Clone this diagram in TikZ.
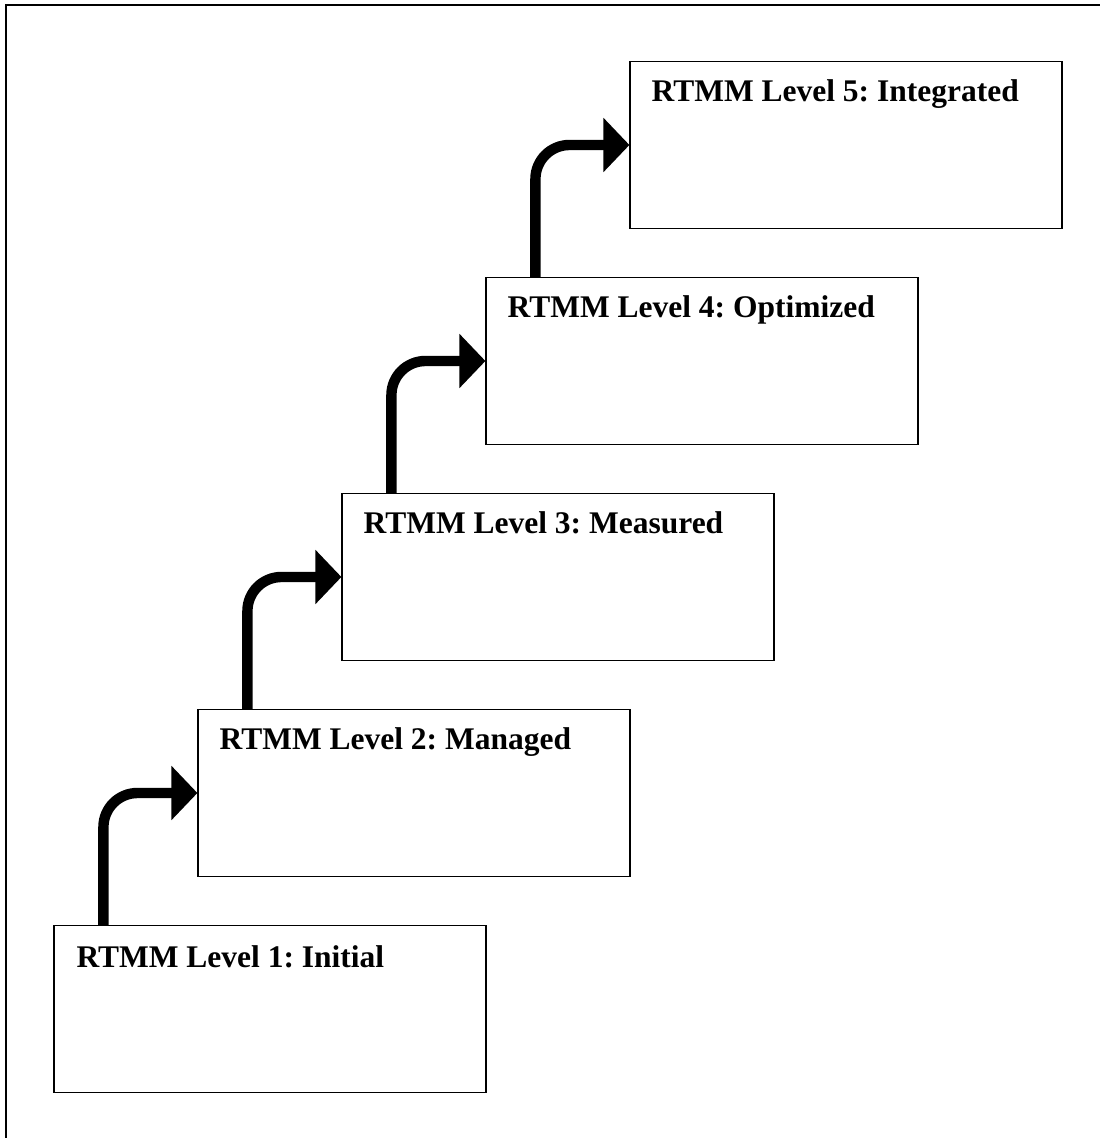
\documentclass[tikz,border=0pt]{standalone}
\usepackage{fontspec}
\setmainfont{Liberation Serif}
\usetikzlibrary{
  positioning,
  arrows.meta
}
\frenchspacing

\begin{document}
\begin{tikzpicture}[
  every node/.style={inner sep=0pt},
  levelbox/.style={
    rectangle, draw=black, line width=0.8pt,
    minimum width=10.8cm, minimum height=4.175cm
  },
  title/.style={anchor=base west, font=\fontsize{22.4}{26}\selectfont\bfseries},
  arrow/.style={-{Triangle[length=0.65cm, width=1.32cm]}, line width=0.26cm,
    rounded corners=0.85cm},
  frame/.style={line width=0.05cm}
]
 % Page size (1100 x 1138 px, 1px = 0.025cm)
 \useasboundingbox (0,0) rectangle (27.5,28.45);

 % Outer frame (only top and left edges are visible)
 \draw[frame] (0.15,0) -- (0.15,28.325) -- (27.5,28.325);

 % Level boxes, each step is 3.6cm right and 5.4cm up
 \node[levelbox] (l1) at (6.75,3.225) {};
 \node[levelbox] (l2) at (10.35,8.625) {};
 \node[levelbox] (l3) at (13.95,14.025) {};
 \node[levelbox] (l4) at (17.55,19.425) {};
 \node[levelbox] (l5) at (21.15,24.825) {};

 % Titles
 \node[title] (t1) at ([xshift=0.57cm, yshift=-1.06cm] l1.north west) {RTMM Level 1: Initial};
 \node[title] (t2) at ([xshift=0.55cm, yshift=-1.02cm] l2.north west) {RTMM Level 2: Managed};
 \node[title] (t3) at ([xshift=0.55cm, yshift=-1.02cm] l3.north west) {RTMM Level 3: Measured};
 \node[title] (t4) at ([xshift=0.55cm, yshift=-1.02cm] l4.north west) {RTMM Level 4: Optimized};
 \node[title] (t5) at ([xshift=0.55cm, yshift=-1.02cm] l5.north west) {RTMM Level 5: Integrated};

 % Step arrows
 \draw[arrow] ([xshift=1.25cm] l1.north west) |- (l2.west);
 \draw[arrow] ([xshift=1.25cm] l2.north west) |- (l3.west);
 \draw[arrow] ([xshift=1.25cm] l3.north west) |- (l4.west);
 \draw[arrow] ([xshift=1.25cm] l4.north west) |- (l5.west);
\end{tikzpicture}
\end{document}
